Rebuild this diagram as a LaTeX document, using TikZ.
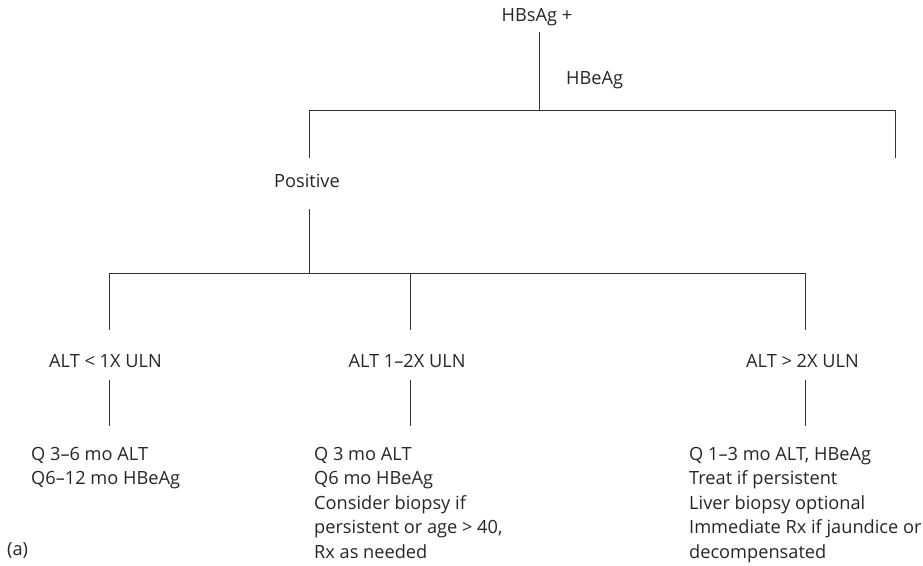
\documentclass[tikz,border=0pt]{standalone}
\usepackage{fontspec}
\setmainfont{Open Sans}
\begin{document}
\begin{tikzpicture}[x=1pt,y=-1pt,
  wire/.style={draw=black!80,line width=0.9pt},
  lbl/.style={inner sep=0pt,font=\fontsize{18.2}{24.5}\selectfont,text=black!85},
  blk/.style={lbl,align=left,anchor=north west}]
\useasboundingbox (0,0) rectangle (923,565);

% labels
\node[lbl] (hbs) at (537,17) {HBsAg +};
\node[lbl,anchor=west] (hbe) at (566,80) {HBeAg};
\node[lbl] (pos) at (307,181) {Positive};
\node[lbl] (alt1) at (105.5,361) {ALT < 1X ULN};
\node[lbl] (alt2) at (407,361) {ALT 1–2X ULN};
\node[lbl] (alt3) at (802.5,361) {ALT > 2X ULN};

\node[blk] (r1) at (31,447) {Q 3–6 mo ALT\\Q6–12 mo HBeAg};
\node[blk] (r2) at (314,447) {Q 3 mo ALT\\Q6 mo HBeAg\\Consider biopsy if\\persistent or age > 40,\\Rx as needed};
\node[blk] (r3) at (689,447) {Q 1–3 mo ALT, HBeAg\\Treat if persistent\\Liver biopsy optional\\Immediate Rx if jaundice or\\decompensated};
\node[lbl,anchor=west] (tag) at (7,550) {(a)};

% junctions and line ends
\coordinate (top) at (539,32);
\coordinate (j0) at (539,110);
\coordinate (jl) at (309,110);
\coordinate (jr) at (895,110);
\coordinate (pl) at (309,158);
\coordinate (prt) at (895,158);
\coordinate (pa) at (309,209);
\coordinate (j1) at (309,273);
\coordinate (b1) at (109,273);
\coordinate (b2) at (410,273);
\coordinate (b3) at (805,273);
\coordinate (e1) at (109,330);
\coordinate (e2) at (410,330);
\coordinate (e3) at (805,330);
\coordinate (s1) at (109,380);
\coordinate (s2) at (410,380);
\coordinate (s3) at (805,380);
\coordinate (t1) at (109,426);
\coordinate (t2) at (410,426);
\coordinate (t3) at (805,426);

% tree
\draw[wire] (top) -- (j0);
\draw[wire] (pl) -- (jl) -- (jr) -- (prt);
\draw[wire] (pa) -- (j1);
\draw[wire] (e1) -- (b1) -- (b3) -- (e3);
\draw[wire] (b2) -- (e2);
\draw[wire] (s1) -- (t1);
\draw[wire] (s2) -- (t2);
\draw[wire] (s3) -- (t3);
\end{tikzpicture}
\end{document}
